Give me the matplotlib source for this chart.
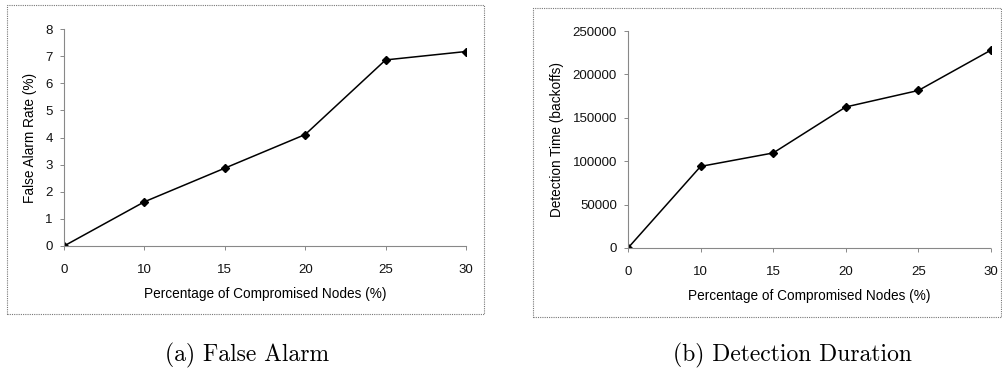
import matplotlib.pyplot as plt
from matplotlib.patches import Rectangle

# Percentage of compromised nodes (category axis, evenly spaced)
nodes = ["0", "10", "15", "20", "25", "30"]
false_alarm = [0.0, 1.63, 2.87, 4.11, 6.86, 7.17]
detection_time = [0, 94000, 109500, 162500, 181500, 228000]

W, H = 1002, 390
fig = plt.figure(figsize=(W / 100, H / 100), dpi=100)
plt.rcParams['font.family'] = ['Liberation Sans', 'DejaVu Sans']


def px_axes(x0, y0, x1, y1):
    # pixel box (top-left origin) -> figure axes
    return fig.add_axes([x0 / W, 1 - y1 / H, (x1 - x0) / W, (y1 - y0) / H])


def panel_frame(x0, y0, x1, y1):
    fig.patches.append(Rectangle((x0 / W, 1 - y1 / H), (x1 - x0) / W, (y1 - y0) / H,
                                 transform=fig.transFigure, fill=False,
                                 edgecolor='#777777', linewidth=0.8, linestyle=(0, (1, 1))))


def style(ax, ylim, yticks, ylabel):
    pos = range(len(nodes))
    ax.set_xlim(0, len(nodes) - 1)
    ax.set_ylim(*ylim)
    ax.set_xticks(list(pos))
    ax.set_xticklabels(nodes)
    ax.set_yticks(yticks)
    for s in ['top', 'right']:
        ax.spines[s].set_visible(False)
    for s in ['left', 'bottom']:
        ax.spines[s].set_color('#888888')
        ax.spines[s].set_linewidth(0.8)
        ax.spines[s].set_linestyle((0, (2, 1)))
    ax.tick_params(axis='both', colors='#888888', labelcolor='#111111',
                   labelsize=9.5, length=3, width=0.7)
    ax.tick_params(axis='y', pad=5)
    ax.tick_params(axis='x', pad=10)
    ax.set_xlabel("Percentage of Compromised Nodes (%)", fontsize=9.8, labelpad=8)
    ax.set_ylabel(ylabel, fontsize=9.8, labelpad=6)
    ax.patch.set_alpha(0)


# (a) false alarm rate
panel_frame(7, 5, 484, 314)
ax1 = px_axes(64, 29, 466, 246)
ax1.plot(range(len(nodes)), false_alarm, color='black', linewidth=1.1,
         marker='D', markersize=3.8)
style(ax1, (0, 8), range(0, 9), "False Alarm Rate (%)")
ax1.set_yticklabels([str(v) for v in range(0, 9)])

# (b) detection duration
panel_frame(533, 8, 1001, 317)
ax2 = px_axes(628, 31, 991, 248)
ax2.plot(range(len(nodes)), detection_time, color='black', linewidth=1.1,
         marker='D', markersize=3.8)
style(ax2, (0, 250000), range(0, 250001, 50000), "Detection Time (backoffs)")
ax2.set_yticklabels([str(v) for v in range(0, 250001, 50000)])

# sub-figure captions
fig.text(247 / W, 1 - 355 / H, "(a) False Alarm", family='cmr10', fontsize=17,
         ha='center', va='center')
fig.text(792 / W, 1 - 355 / H, "(b) Detection Duration", family='cmr10', fontsize=17,
         ha='center', va='center')

fig.savefig("out.png", dpi=100)
